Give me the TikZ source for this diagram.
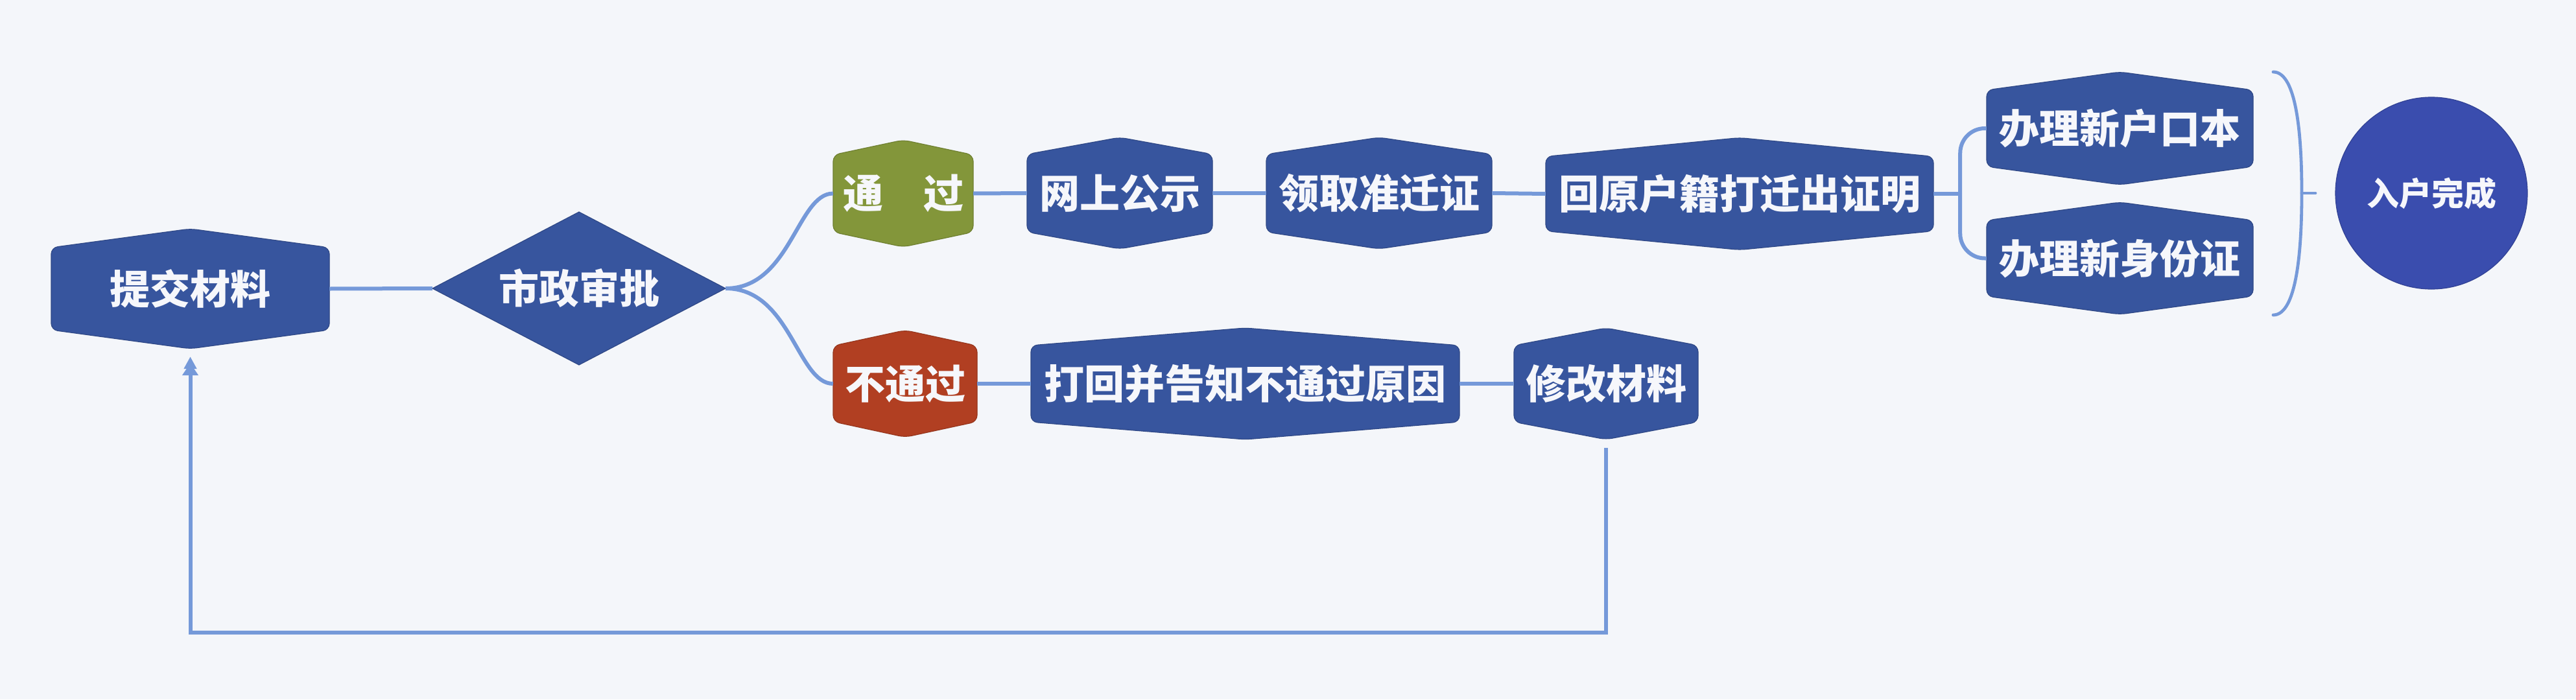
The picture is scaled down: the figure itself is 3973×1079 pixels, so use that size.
\documentclass[tikz,border=0pt]{standalone}
\usepackage{fontspec}
\usetikzlibrary{arrows.meta}
\newfontfamily\cjk{Noto Sans CJK SC}
\definecolor{bgcol}{HTML}{F4F6FA}
\definecolor{txtcol}{HTML}{F6F7FB}
\definecolor{hexblue}{HTML}{37559E}
\definecolor{passgreen}{HTML}{83963A}
\definecolor{failred}{HTML}{B13F22}
\definecolor{donecol}{HTML}{3A4DAE}
\definecolor{linecol}{HTML}{7599D9}
\tikzset{
  lbl/.style={text=txtcol, inner sep=0pt, font=\cjk\bfseries\fontsize{62}{62}\selectfont},
  conn/.style={draw=linecol, line width=6pt},
  hexfill/.style={fill=#1, draw=#1!85!black, line width=1.2pt, rounded corners=10pt},
}
% name, cx, cy, w, h, shoulder, colour, text
\newcommand\hexbox[8]{%
  \path[hexfill=#7] ({#2-#4/2},{#3-#5/2+#6}) -- ({#2},{#3-#5/2}) -- ({#2+#4/2},{#3-#5/2+#6})
    -- ({#2+#4/2},{#3+#5/2-#6}) -- ({#2},{#3+#5/2}) -- ({#2-#4/2},{#3+#5/2-#6}) -- cycle;
  \node[lbl, minimum width=#4pt, minimum height=#5pt] (#1) at (#2,#3) {#8};}
\begin{document}
\begin{tikzpicture}[x=1pt, y=-1pt]
\fill[bgcol] (0,0) rectangle (3973,1079);
\useasboundingbox (0,0) rectangle (3973,1079);

\hexbox{submit}{293.5}{445.5}{429}{185}{29}{hexblue}{提交材料}
\path[hexfill=hexblue, rounded corners=0pt] (667,445) -- (893,327) -- (1119,445) -- (893,563) -- cycle;
\node[lbl, minimum width=452pt, minimum height=236pt] (review) at (893,445) {市政审批};

\hexbox{pass}{1393}{298.5}{216}{165}{23}{passgreen}{通　过}
\hexbox{public}{1727}{298}{286}{172}{26}{hexblue}{网上公示}
\hexbox{permit}{2127}{298}{348}{172}{26}{hexblue}{领取准迁证}
\hexbox{proof}{2683}{299}{598}{173}{29}{hexblue}{回原户籍打迁出证明}
\hexbox{hukou}{3269.5}{198}{411}{174}{28}{hexblue}{办理新户口本}
\hexbox{idcard}{3269.5}{398.5}{411}{173}{28}{hexblue}{办理新身份证}
\node[circle, fill=donecol, draw=donecol!85!black, line width=1.2pt, minimum size=296pt, inner sep=0pt,
      text=txtcol, font=\cjk\bfseries\fontsize{50}{50}\selectfont] (done) at (3750,298) {入户完成};

\hexbox{fail}{1396}{592}{222}{165}{24}{failred}{不通过}
\hexbox{reason}{1920.5}{592}{661}{172}{27}{hexblue}{打回并告知不通过原因}
\hexbox{modify}{2477}{592}{284}{172}{27}{hexblue}{修改材料}

% connectors
\draw[conn] (submit.east) -- (review.west);
\draw[conn] (review.east) .. controls +(100,0) and +(-55,0) .. (pass.west);
\draw[conn] (review.east) .. controls +(100,0) and +(-55,0) .. (fail.west);
\draw[conn] (pass.east) -- (public.west);
\draw[conn] (public.east) -- (permit.west);
\draw[conn] (permit.east) -- (proof.west);
\draw[conn] (proof.east) -- ++(41,0) coordinate (fork);
\draw[conn, rounded corners=38pt] (fork) |- (hukou.west);
\draw[conn, rounded corners=38pt] (fork) |- (idcard.west);
\draw[conn] (fail.east) -- (reason.west);
\draw[conn] (reason.east) -- (modify.west);

% summary bracket
\coordinate (btop) at (3506,111);
\coordinate (bbot) at (3506,486);
\coordinate (bmid) at (3550,298);
\draw[conn, line width=4.8pt, line cap=round] (btop) .. controls +(32,0) and +(0,-110) .. (bmid)
  .. controls +(0,110) and +(32,0) .. (bbot);
\draw[conn, line width=4.8pt, line cap=round] (bmid) -- ++(21,0) coordinate (btick);

% feedback loop
\coordinate (loopy) at (0,976);
\draw[conn, shorten >=12pt,
  -{Triangle[length=19pt,width=24pt,sep=-9pt]Triangle[length=19pt,width=19pt]}]
  ([yshift=-13pt]modify.south) -- (modify.south |- loopy) -| (submit.south);
\end{tikzpicture}
\end{document}
